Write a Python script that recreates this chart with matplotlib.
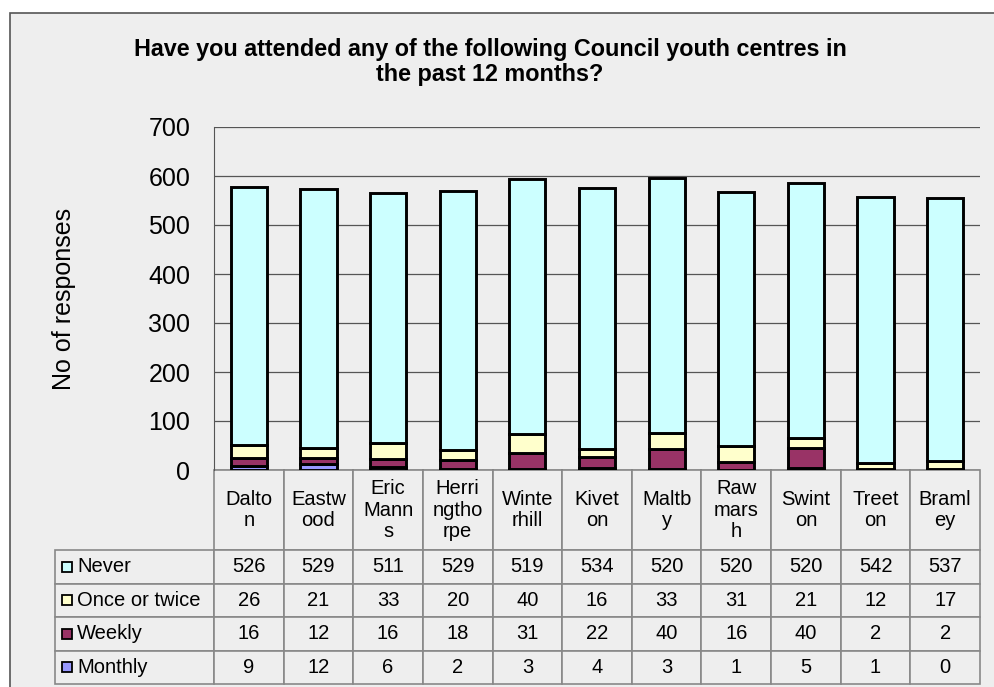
import numpy as np
import matplotlib.pyplot as plt
from matplotlib.patches import Rectangle

plt.rcParams['font.family'] = ['Liberation Sans', 'DejaVu Sans']

centres = ['Dalto\nn', 'Eastw\nood', 'Eric\nMann\ns', 'Herri\nngtho\nrpe', 'Winte\nrhill',
           'Kivet\non', 'Maltb\ny', 'Raw\nmars\nh', 'Swint\non', 'Treet\non', 'Braml\ney']
never = [526, 529, 511, 529, 519, 534, 520, 520, 520, 542, 537]
once = [26, 21, 33, 20, 40, 16, 33, 31, 21, 12, 17]
weekly = [16, 12, 16, 18, 31, 22, 40, 16, 40, 2, 2]
monthly = [9, 12, 6, 2, 3, 4, 3, 1, 5, 1, 0]

series = ['Monthly', 'Weekly', 'Once or twice', 'Never']
colors = ['#9999FF', '#993366', '#FFFFCC', '#CCFFFF']
values = [monthly, weekly, once, never]

bg = '#EEEEEE'
fig = plt.figure(figsize=(9.95, 6.87), dpi=100, facecolor='white')
fig.patches.append(Rectangle((10/995, -0.01), 1.0, 674/687 + 0.01, transform=fig.transFigure,
                             facecolor=bg, edgecolor='#555555', linewidth=1.2, zorder=-5))

ax = fig.add_axes([214/995, (687-470)/687, 766/995, 343/687])
ax.set_facecolor(bg)

x = np.arange(len(centres))
bottom = np.zeros(len(centres))
for name, col, v in zip(series, colors, values):
    ax.bar(x, v, 0.52, bottom=bottom, color=col, edgecolor='black', linewidth=2.1, zorder=3)
    bottom += np.array(v)

ax.set_xlim(-0.5, len(centres) - 0.5)
ax.set_ylim(0, 700)
ax.set_yticks(range(0, 701, 100))
ax.tick_params(axis='y', labelsize=18, length=0, pad=17)
ax.set_xticks([])
ax.grid(axis='y', color='#555555', linewidth=0.9, zorder=0)
for s in ['right', 'bottom', 'top']:
    ax.spines[s].set_visible(False)
ax.spines['left'].set_color('#555555')
ax.set_ylabel('No of responses', fontsize=18, labelpad=52)

fig.text(490/995, 1 - 62/687, 'Have you attended any of the following Council youth centres in\nthe past 12 months?',
         ha='center', va='center', fontsize=16.8, fontweight='bold', linespacing=1.1)

# data table under the bars
rows = series[::-1]
cell_text = [[str(n) for n in v] for v in values[::-1]]
label_w = 159 / 766
tbl = ax.table(cellText=cell_text, rowLabels=rows, colLabels=centres,
               cellLoc='center', rowLoc='left',
               bbox=[0, -214/343, 1, 214/343])
tbl._autoColumns = []
tbl.auto_set_font_size(False)
tbl.set_fontsize(14.5)
col_w = 1 / len(centres)
for (r, c), cell in tbl.get_celld().items():
    cell.set_edgecolor('#888888')
    cell.set_linewidth(1.2)
    cell.set_facecolor(bg)
    cell.set_width(label_w if c == -1 else col_w)
    cell.set_height(80 if r == 0 else 33.5)
    if c == -1:
        cell.PAD = 22 / 159
    if r == 0:
        cell.get_text().set_linespacing(1.15)

# legend keys in the row labels
row_h = 33.5 / 343
for i, r in enumerate(rows):
    cy = -(80 / 343) - row_h * (i + 0.5)
    ax.add_patch(Rectangle((-label_w + 7/766, cy - 5/343), 10/766, 10/343,
                           transform=ax.transAxes, facecolor=colors[::-1][i],
                           edgecolor='black', linewidth=1.3, clip_on=False, zorder=5))

fig.savefig('out.png', dpi=100, facecolor=fig.get_facecolor())
